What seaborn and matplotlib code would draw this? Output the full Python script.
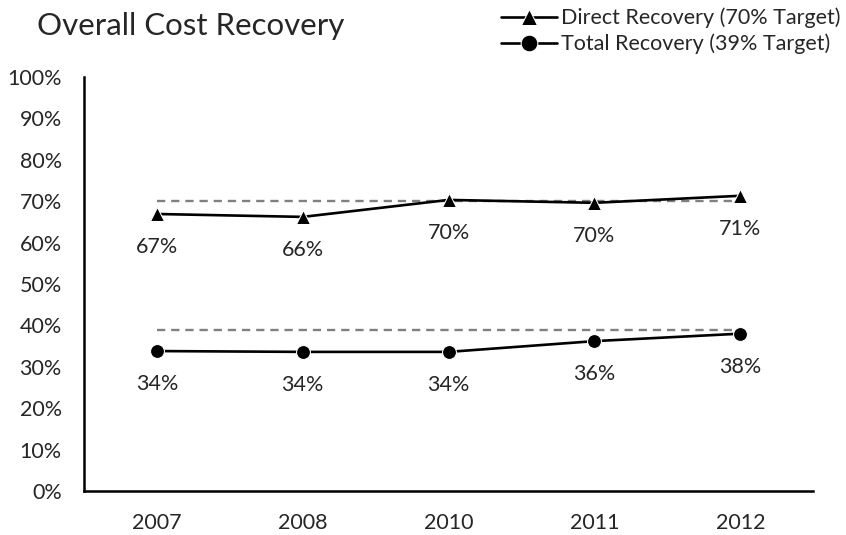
import matplotlib
matplotlib.use("Agg")
import matplotlib.pyplot as plt
import pandas as pd
import seaborn as sns
from matplotlib.ticker import PercentFormatter

# data
years = ["2007", "2008", "2010", "2011", "2012"]
direct = [66.9, 66.2, 70.3, 69.6, 71.3]
total = [33.8, 33.6, 33.6, 36.2, 38.0]
direct_labels = ["67%", "66%", "70%", "70%", "71%"]
total_labels = ["34%", "34%", "34%", "36%", "38%"]
direct_target = 70
total_target = 39

sns.set_style("white")
plt.rcParams["font.family"] = ["Lato", "DejaVu Sans"]

df = pd.DataFrame({
    "year": years,
    "direct": direct,
    "total": total,
    "direct_target": [direct_target] * len(years),
    "total_target": [total_target] * len(years),
})

fig = plt.figure(figsize=(8.46, 5.35), dpi=100)
ax = fig.add_axes([0.0993, 0.0822, 0.862, 0.774])

# target lines
sns.lineplot(data=df, x="year", y="direct_target", ax=ax, color="#808080",
             linestyle=(0, (3.5, 2.5)), linewidth=1.7, sort=False)
sns.lineplot(data=df, x="year", y="total_target", ax=ax, color="#808080",
             linestyle=(0, (3.5, 2.5)), linewidth=1.7, sort=False)

# actual recovery
sns.lineplot(data=df, x="year", y="direct", ax=ax, color="black", marker="^",
             markersize=10, linewidth=1.9, sort=False,
             label="Direct Recovery (70% Target)")
sns.lineplot(data=df, x="year", y="total", ax=ax, color="black", marker="o",
             markersize=10, linewidth=1.9, sort=False,
             label="Total Recovery (39% Target)")

fs = 15.5
for i, (v, t) in enumerate(zip(direct, direct_labels)):
    ax.annotate(t, (i, v), xytext=(0, -24), textcoords="offset points",
                ha="center", va="center", fontsize=fs)
for i, (v, t) in enumerate(zip(total, total_labels)):
    ax.annotate(t, (i, v), xytext=(0, -24), textcoords="offset points",
                ha="center", va="center", fontsize=fs)

ax.set_xlim(-0.5, len(years) - 0.5)
ax.set_ylim(0, 100)
ax.set_yticks(range(0, 101, 10))
ax.yaxis.set_major_formatter(PercentFormatter(decimals=0))
ax.tick_params(axis="both", length=0, labelsize=fs, pad=16)
ax.set_xlabel("")
ax.set_ylabel("")

sns.despine(ax=ax)
for s in ["left", "bottom"]:
    ax.spines[s].set_color("black")
    ax.spines[s].set_linewidth(1.8)

fig.text(0.044, 0.952, "Overall Cost Recovery", fontsize=22.5, va="center", ha="left")

leg = ax.legend(loc="upper right", bbox_to_anchor=(0.998, 0.994),
                bbox_transform=fig.transFigure, frameon=False, fontsize=fs,
                handlelength=2.6, handletextpad=0.15, labelspacing=0.25,
                borderaxespad=0.1, borderpad=0.1, markerscale=1.2)

fig.savefig("out.png", dpi=100)
